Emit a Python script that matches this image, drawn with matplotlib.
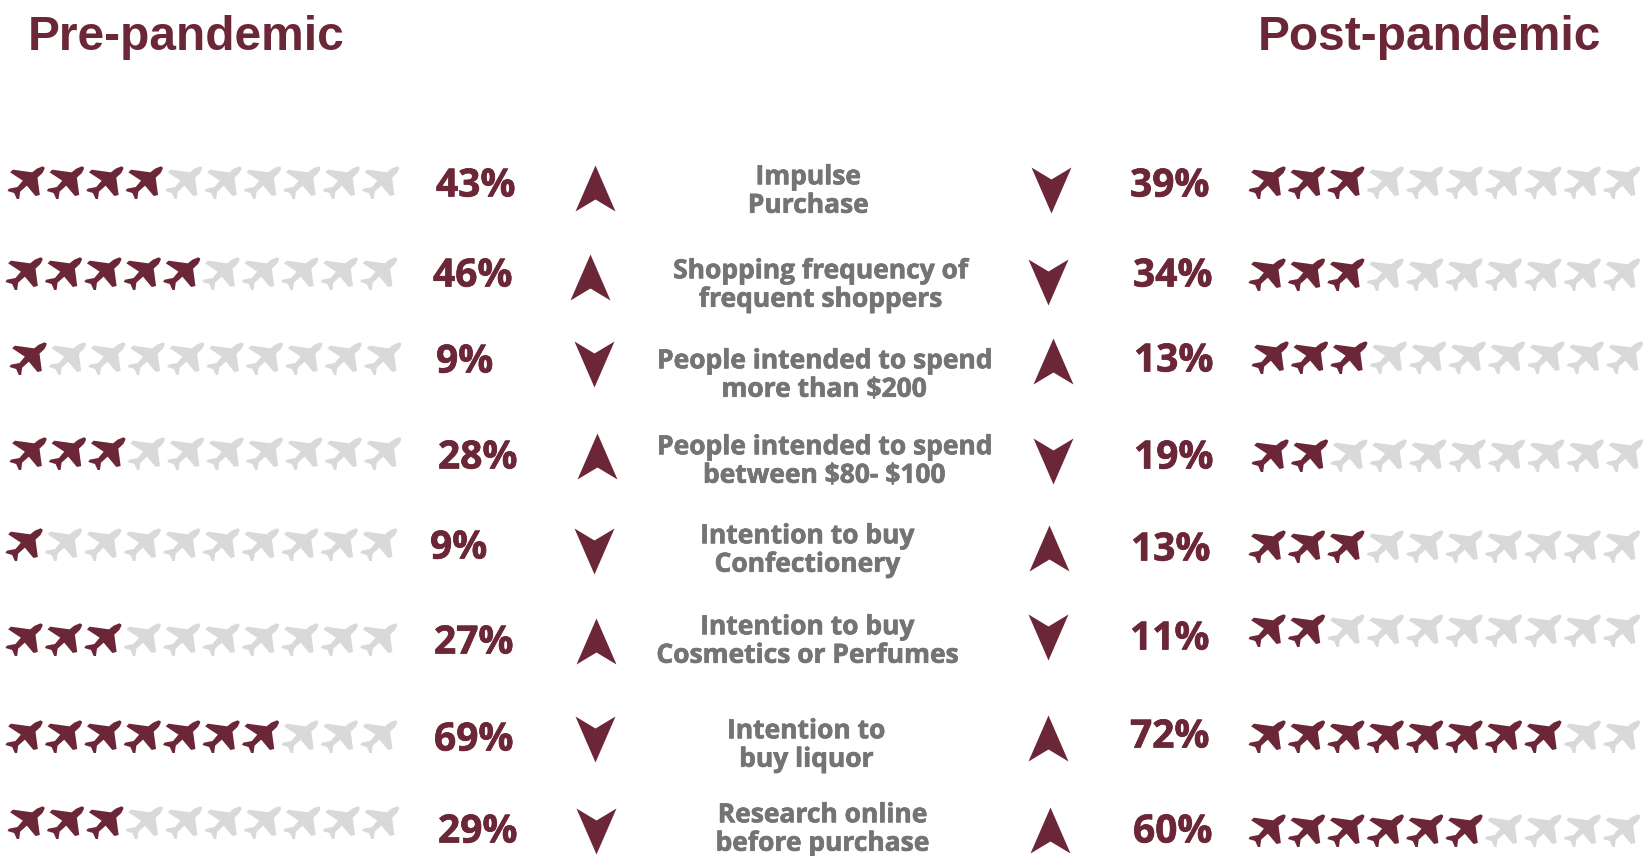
import matplotlib
matplotlib.use("Agg")
import matplotlib.pyplot as plt
import matplotlib.patheffects as pe
import numpy as np
from matplotlib.path import Path

# values
labels = [
    "Impulse\nPurchase",
    "Shopping frequency of\nfrequent shoppers",
    "People intended to spend\nmore than \\$200",
    "People intended to spend\nbetween \\$80- \\$100",
    "Intention to buy\nConfectionery",
    "Intention to buy\nCosmetics or Perfumes",
    "Intention to\nbuy liquor",
    "Research online\nbefore purchase",
]
pre_pct = [43, 46, 9, 28, 9, 27, 69, 29]
post_pct = [39, 34, 13, 19, 13, 11, 72, 60]
pre_planes = [4, 5, 1, 3, 1, 3, 7, 3]
post_planes = [3, 3, 3, 2, 3, 2, 8, 6]
pre_up = [True, True, False, True, False, True, False, False]
post_up = [False, False, True, False, True, False, True, True]

# layout, in pixels
pre_plane_x = [26, 24, 28, 28, 24, 24, 24, 26]
pre_plane_y = [183, 274, 359, 454, 545, 640, 737, 823]
post_plane_x = [1267, 1267, 1270, 1270, 1267, 1267, 1267, 1267]
post_plane_y = [183, 275, 358, 456, 547, 631, 737, 831]
pre_pct_x = [436, 433, 436, 438, 430, 434, 434, 438]
pre_pct_y = [186, 276, 362, 458, 548, 643, 740, 832]
post_pct_x = [1130, 1133, 1134, 1134, 1131, 1130, 1130, 1133]
post_pct_y = [186, 276, 361, 458, 550, 639, 737, 832]
pre_arrow_x = [595, 590, 594, 597, 594, 596, 595, 596]
pre_arrow_y = [188, 277, 364, 456, 551, 641, 739, 831]
post_arrow_x = [1051, 1048, 1053, 1053, 1049, 1048, 1048, 1050]
post_arrow_y = [190, 282, 361, 461, 548, 637, 738, 830]
label_x = [808, 820, 824, 824, 807, 807, 806, 822]
label_y = [191, 285, 375, 461, 550, 641, 745, 829]
plane_step = 39.4

maroon = "#6B2737"
light = "#D9D9D9"
text_grey = "#747474"

# plane outline with two window cut-outs
outline = [(133, 53), (127, 50), (110, 57), (96, 68), (38, 60), (30, 68), (68, 93),
           (52, 112), (26, 117), (22, 124), (42, 130), (50, 148), (57, 148), (60, 126),
           (80, 108), (106, 139), (119, 136), (112, 84), (127, 70), (133, 58)]
win1 = [(95, 83), (95, 88), (100, 88), (100, 83)]
win2 = [(106, 76), (106, 81), (111, 81), (111, 76)]


def closed(pts):
    codes = [Path.MOVETO] + [Path.LINETO] * (len(pts) - 1) + [Path.CLOSEPOLY]
    return pts + [pts[0]], codes


verts, codes = [], []
for part in (outline, win1, win2):
    v, c = closed(part)
    verts += v
    codes += c
verts = np.array(verts, dtype=float)
verts = np.column_stack([verts[:, 0] - 77.5, 100 - verts[:, 1]])
plane = Path(verts, codes)

arrow_up = Path([(0, 23), (20, -23), (0, -11), (-20, -23), (0, 23)],
                [Path.MOVETO, Path.LINETO, Path.LINETO, Path.LINETO, Path.CLOSEPOLY])
arrow_down = Path([(0, -23), (-20, 23), (0, 11), (20, 23), (0, -23)],
                  [Path.MOVETO, Path.LINETO, Path.LINETO, Path.LINETO, Path.CLOSEPOLY])

fig = plt.figure(figsize=(16.46, 8.56), dpi=100)
ax = fig.add_axes([0, 0, 1, 1])
ax.set_xlim(0, 1646)
ax.set_ylim(856, 0)
ax.axis("off")


def draw_planes(x0, y, n):
    xs = x0 + np.arange(10) * plane_step
    cols = [maroon if i < n else light for i in range(10)]
    ax.scatter(xs, [y] * 10, marker=plane, s=710, c=cols, linewidths=0)


# thin outline so the small text reads a little heavier
heavy_pct = [pe.withStroke(linewidth=0.5, foreground=maroon)]
heavy_label = [pe.withStroke(linewidth=0.5, foreground=text_grey)]

for i in range(len(labels)):
    draw_planes(pre_plane_x[i], pre_plane_y[i], pre_planes[i])
    draw_planes(post_plane_x[i], post_plane_y[i], post_planes[i])
    ax.text(pre_pct_x[i], pre_pct_y[i], f"{pre_pct[i]}%", color=maroon, family="Open Sans",
            weight="bold", fontsize=28, ha="left", va="center", path_effects=heavy_pct)
    ax.text(post_pct_x[i], post_pct_y[i], f"{post_pct[i]}%", color=maroon, family="Open Sans",
            weight="bold", fontsize=28, ha="left", va="center", path_effects=heavy_pct)
    ax.scatter(pre_arrow_x[i], pre_arrow_y[i], marker=arrow_up if pre_up[i] else arrow_down,
               s=1097, c=maroon, linewidths=0)
    ax.scatter(post_arrow_x[i], post_arrow_y[i], marker=arrow_up if post_up[i] else arrow_down,
               s=1097, c=maroon, linewidths=0)
    ax.text(label_x[i], label_y[i], labels[i], color=text_grey, family="Open Sans", weight="bold",
            fontsize=19, ha="center", va="center", linespacing=1.07, path_effects=heavy_label)

ax.text(28, 37, "Pre-pandemic", color=maroon, family="Liberation Sans", weight="bold",
        fontsize=34.5, ha="left", va="center")
ax.text(1258, 37, "Post-pandemic", color=maroon, family="Liberation Sans", weight="bold",
        fontsize=34.5, ha="left", va="center")

fig.savefig("out.png", dpi=100)
